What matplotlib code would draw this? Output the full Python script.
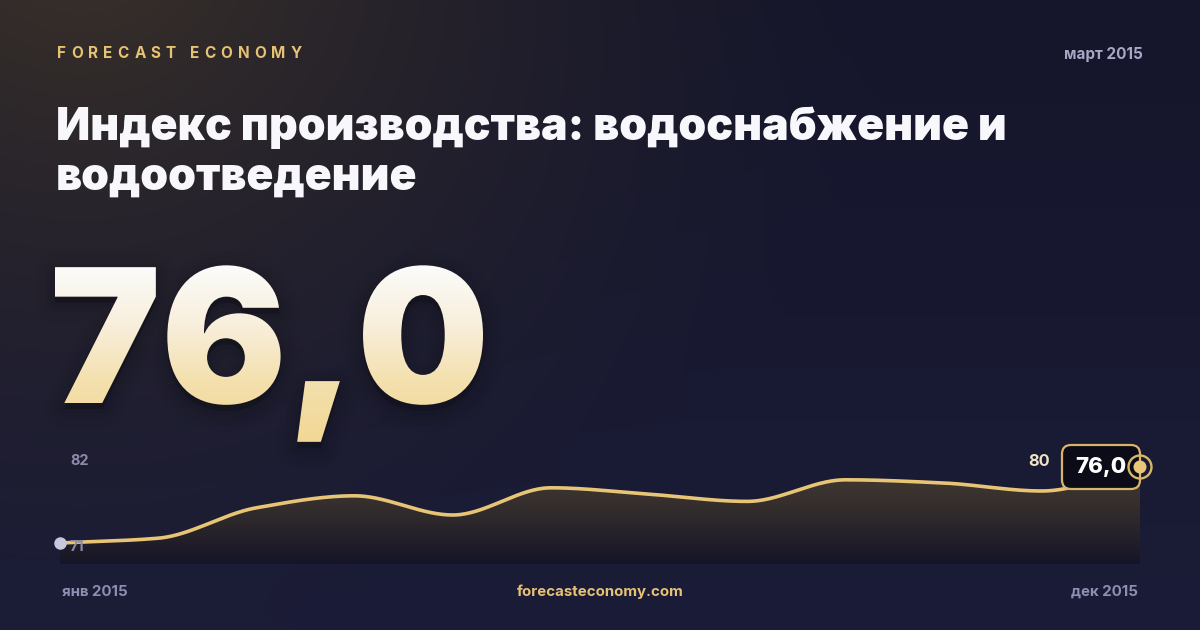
import numpy as np
import matplotlib
matplotlib.use('Agg')
import matplotlib.pyplot as plt
from matplotlib.textpath import TextPath
from matplotlib.patches import PathPatch, FancyBboxPatch, Circle, Polygon
from matplotlib.font_manager import FontProperties, fontManager
from matplotlib.colors import LinearSegmentedColormap, to_rgb
from matplotlib.transforms import Affine2D

# ---------------- data ----------------
months = ['янв', 'фев', 'мар', 'апр', 'май', 'июн', 'июл', 'авг', 'сен', 'окт', 'ноя', 'дек']
values = [71.0, 71.6, 75.4, 76.9, 74.5, 77.9, 77.1, 76.2, 78.9, 78.5, 77.5, 80.5]
y_max_label = '82'
y_min_label = '71'
end_label = '80'
current_value = '76,0'
brand = 'FORECAST ECONOMY'
period = 'март 2015'
title_lines = ['Индекс производства: водоснабжение и', 'водоотведение']
start_label = 'янв 2015'
end_date_label = 'дек 2015'
site = 'forecasteconomy.com'

GOLD = '#e6c274'
W, H = 1200, 630


def font(weight, size=None, family='Inter'):
    cands = [f for f in fontManager.ttflist
             if f.name == family and f.style == 'normal' and f.weight == weight
             and f.fname.endswith('.otf')]
    if not cands:
        cands = [f for f in fontManager.ttflist
                 if f.name == family and f.style == 'normal' and f.weight == weight]
    if cands:
        fp = FontProperties(fname=cands[0].fname)
    else:
        fp = FontProperties(family=['Inter', 'DejaVu Sans'], weight=weight)
    if size is not None:
        fp.set_size(size)
    return fp


fig = plt.figure(figsize=(12, 6.3), dpi=100)

# ---------------- background ----------------
ax_bg = fig.add_axes([0, 0, 1, 1])
ax_bg.set_xlim(0, W)
ax_bg.set_ylim(0, H)
ax_bg.axis('off')

yy, xx = np.mgrid[0:H, 0:W]
top_c = np.array(to_rgb('#15162b'))
bot_c = np.array(to_rgb('#1b1c37'))
t = (yy / H)[..., None]
img = top_c * (1 - t) + bot_c * t
warm = np.array(to_rgb('#3a3129'))
d = np.sqrt(((xx - 80) / 1.15) ** 2 + (yy + 60) ** 2)
g = np.clip(1 - d / 720, 0, 1) ** 1.5
img = img * (1 - g[..., None]) + warm * g[..., None]
ax_bg.imshow(img, extent=[0, W, 0, H], origin='upper', aspect='auto', zorder=0)


def Y(py):
    return H - py


# letter-spaced brand text
fig.canvas.draw()
renderer = fig.canvas.get_renderer()
fp_brand = font(700, 11.0)
widths = [renderer.get_text_width_height_descent(ch, fp_brand, ismath=False)[0] for ch in brand]
target_w = 302 - 57
spacing = (target_w - sum(widths)) / (len(brand) - 1)
x = 57
for ch, w in zip(brand, widths):
    ax_bg.text(x, Y(53), ch, fontproperties=fp_brand, color=GOLD, va='center', ha='left', zorder=5)
    x += w + spacing

ax_bg.text(1143, Y(55), period, fontproperties=font(700, 11.0), color='#a6a8c4',
           ha='right', va='center', zorder=5)

# title
fp_title = font(900, 32.0)
for i, line in enumerate(title_lines):
    ax_bg.text(56, Y(140 + 50 * i), line, fontproperties=fp_title,
               color='#f8f8fc', ha='left', va='baseline', zorder=5)

# big number with gradient
fp_big = font(900)
tp = TextPath((0, 0), current_value, size=100, prop=fp_big)
ext = tp.get_extents()
scale = (483 - 55) / ext.width
tr = Affine2D().translate(-ext.x0, 0).scale(scale).translate(55, Y(403))
path = tr.transform_path(tp)
pe = path.get_extents()
sp = Affine2D().translate(0, -6).transform_path(path)
for lw, a in [(30, 0.025), (22, 0.03), (14, 0.04), (7, 0.05), (0, 0.06)]:
    ax_bg.add_patch(PathPatch(sp, fc='#05050c', ec='#05050c', lw=lw, alpha=a, zorder=3,
                              joinstyle='round'))
cmap_big = LinearSegmentedColormap.from_list('big', ['#fcfcfb', '#f8efdc', '#f4e0ad', '#f2d795'])
grad = np.linspace(0, 1, 256)[:, None]
im = ax_bg.imshow(grad, cmap=cmap_big, extent=[pe.x0, pe.x1, pe.y0, pe.y1], origin='upper',
                  aspect='auto', zorder=4)
clip = PathPatch(path, fc='none', ec='none', transform=ax_bg.transData)
ax_bg.add_patch(clip)
im.set_clip_path(clip)

# bottom labels
fp_small = font(700, 10.8)
ax_bg.text(62, Y(592), start_label, fontproperties=fp_small, color='#8c8fb0',
           ha='left', va='center', zorder=5)
ax_bg.text(1138, Y(592), end_date_label, fontproperties=fp_small, color='#8c8fb0',
           ha='right', va='center', zorder=5)
ax_bg.text(600, Y(592), site, fontproperties=font(700, 10.8), color=GOLD,
           ha='center', va='center', zorder=5)

# ---------------- chart ----------------
y_lo, y_hi = 68.375, 82.875
ax = fig.add_axes([60 / W, (H - 564) / H, 1080 / W, 116 / H])
ax.set_xlim(0, len(values) - 1)
ax.set_ylim(y_lo, y_hi)
ax.axis('off')
ax.patch.set_alpha(0)


def monotone(x, y, n=60):
    x = np.asarray(x, float)
    y = np.asarray(y, float)
    h = np.diff(x)
    dd = np.diff(y) / h
    m = np.zeros_like(y)
    m[0], m[-1] = dd[0], dd[-1]
    for i in range(1, len(y) - 1):
        if dd[i - 1] * dd[i] <= 0:
            m[i] = 0
        else:
            w1 = 2 * h[i] + h[i - 1]
            w2 = h[i] + 2 * h[i - 1]
            m[i] = (w1 + w2) / (w1 / dd[i - 1] + w2 / dd[i])
    xs, ys = [], []
    for i in range(len(x) - 1):
        tt = np.linspace(0, 1, n, endpoint=False)
        h00 = 2 * tt**3 - 3 * tt**2 + 1
        h10 = tt**3 - 2 * tt**2 + tt
        h01 = -2 * tt**3 + 3 * tt**2
        h11 = tt**3 - tt**2
        xs.append(x[i] + tt * h[i])
        ys.append(h00 * y[i] + h10 * h[i] * m[i] + h01 * y[i + 1] + h11 * h[i] * m[i + 1])
    xs.append([x[-1]])
    ys.append([y[-1]])
    return np.concatenate(xs), np.concatenate(ys)


xi = np.arange(len(values))
sx, sy = monotone(xi, values)

poly = Polygon(np.column_stack([np.r_[sx, sx[-1], sx[0]], np.r_[sy, y_lo, y_lo]]),
               closed=True, fc='none', ec='none', transform=ax.transData)
ax.add_patch(poly)
cmap_fill = LinearSegmentedColormap.from_list('fill', ['#453b32', '#2f2a2c', '#161527'])
fim = ax.imshow(np.linspace(0, 1, 256)[:, None], cmap=cmap_fill,
                extent=[0, len(values) - 1, y_lo, y_hi - 2.5], origin='upper', aspect='auto', zorder=1)
fim.set_clip_path(poly)

ax.plot(sx, sy, color='#e8c475', lw=2.6, solid_capstyle='round', zorder=3, clip_on=False)
ax.plot([0], [values[0]], 'o', ms=8, color='#c6c8de', zorder=4, clip_on=False)

# ---------------- overlay (above chart) ----------------
ax_top = fig.add_axes([0, 0, 1, 1])
ax_top.set_xlim(0, W)
ax_top.set_ylim(0, H)
ax_top.axis('off')
ax_top.patch.set_alpha(0)

fig.canvas.draw()
px, py = ax.transData.transform((xi[-1], values[-1]))

box = FancyBboxPatch((px - 78, py - 22), 78, 44, boxstyle='round,pad=0,rounding_size=9',
                     fc='#0b0c17', ec='#d9b569', lw=1.6, zorder=6)
ax_top.add_patch(box)
ax_top.text(px - 39, py, current_value, fontproperties=font(800, 16.0),
            color='white', ha='center', va='center', zorder=7)
ax_top.text(px - 90, py + 5, end_label, fontproperties=font(700, 11.8), color='#efe3c6',
            ha='right', va='center', zorder=7)
ax_top.add_patch(Circle((px, py), 11.5, fill=False, ec='#d9b569', lw=1.7, zorder=8))
ax_top.add_patch(Circle((px, py), 6.5, fc='#e8c67a', ec='none', zorder=8))

# y labels
fp_y = font(700, 10.5)
ax_top.text(70, Y(461), y_max_label, fontproperties=fp_y, color='#8a8cab',
            ha='left', va='center', zorder=7)
ax_top.text(70, Y(547), y_min_label, fontproperties=fp_y, color='#8a8cab',
            ha='left', va='center', zorder=7)

ax_bg.set_zorder(0)
ax.set_zorder(1)
ax_top.set_zorder(2)
fig.savefig('out.png', dpi=100)
